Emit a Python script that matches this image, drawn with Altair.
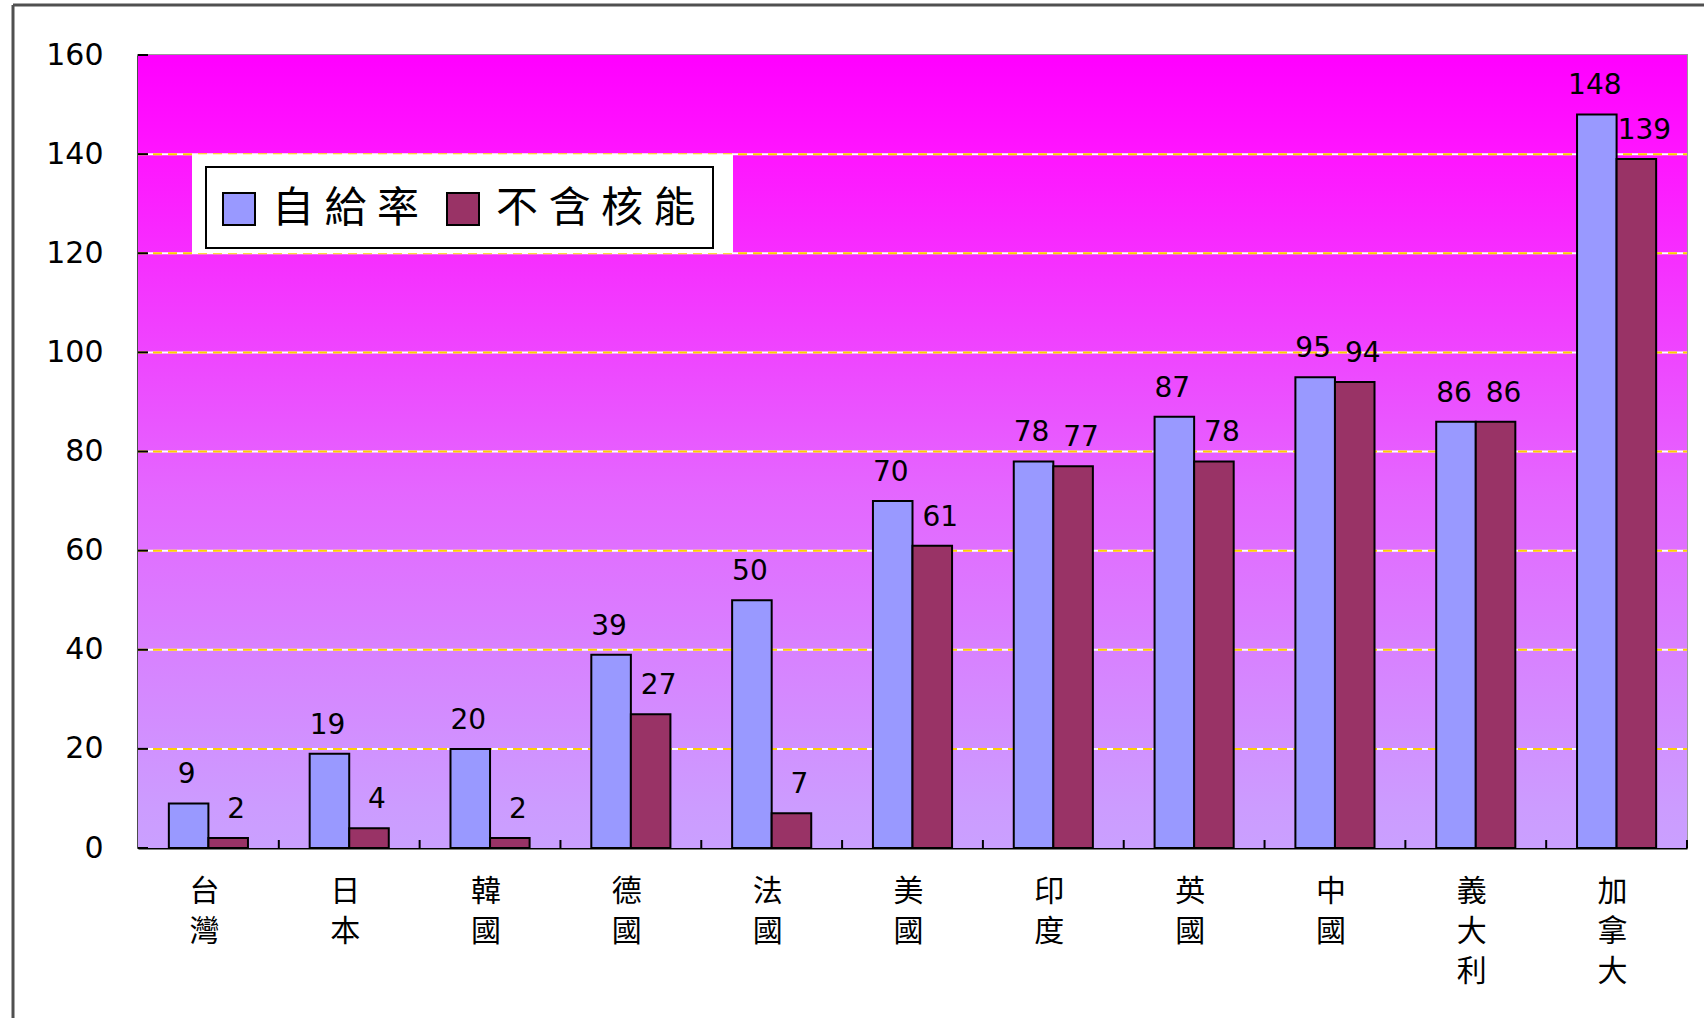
import altair as alt
import pandas as pd

# Energy self-sufficiency by country, with and without nuclear power
countries = ["台灣", "日本", "韓國", "德國", "法國", "美國", "印度", "英國", "中國", "義大利", "加拿大"]
self_rate = [9, 19, 20, 39, 50, 70, 78, 87, 95, 86, 148]
no_nuclear = [2, 4, 2, 27, 7, 61, 77, 78, 94, 86, 139]
series_names = ["自給率", "不含核能"]
series_colors = ["#9999FF", "#993366"]
y_ticks = [0, 20, 40, 60, 80, 100, 120, 140, 160]
grid_values = [20, 40, 60, 80, 100, 120, 140]

W, H = 1549, 793

rows = []
for c, a, b in zip(countries, self_rate, no_nuclear):
    rows.append({"country": c, "series": series_names[0], "value": a})
    rows.append({"country": c, "series": series_names[1], "value": b})
df = pd.DataFrame(rows)

x_scale = alt.Scale(paddingInner=0, paddingOuter=0)
y_scale = alt.Scale(domain=[0, 160], nice=False, zero=True)
off_scale = alt.Scale(paddingInner=0, paddingOuter=0.78)

one = pd.DataFrame({"k": [0]})

# gradient plot background
bg = alt.Chart(one).mark_rect(
    fill=alt.LinearGradient(
        gradient="linear",
        stops=[
            alt.GradientStop(color="#FF00FF", offset=0),
            alt.GradientStop(color="#FF14FF", offset=0.12),
            alt.GradientStop(color="#E466FF", offset=0.55),
            alt.GradientStop(color="#CC9CFF", offset=0.95),
            alt.GradientStop(color="#CAA0FF", offset=1),
        ],
        x1=0, x2=0, y1=0, y2=1,
    ),
    strokeWidth=0,
).encode(x=alt.value(0), x2=alt.value(W), y=alt.value(0), y2=alt.value(H))

grid_df = pd.DataFrame({"value": grid_values})
grid_white = alt.Chart(grid_df).mark_rule(color="white", strokeWidth=2).encode(
    y=alt.Y("value:Q", scale=y_scale, title=None), x=alt.value(0), x2=alt.value(W)
)
grid_yellow = alt.Chart(grid_df).mark_rule(
    color="#FFD000", strokeWidth=2, strokeDash=[9, 6]
).encode(y=alt.Y("value:Q", scale=y_scale, title=None), x=alt.value(0), x2=alt.value(W))

# white band and framed box behind the legend
band_df = pd.DataFrame({"value": [140], "lo": [120]})
legend_band = alt.Chart(band_df).mark_rect(color="white").encode(
    y=alt.Y("value:Q", scale=y_scale, title=None), y2="lo:Q",
    x=alt.value(54), x2=alt.value(595),
)
legend_box = alt.Chart(one).mark_rect(
    fill="white", stroke="black", strokeWidth=2
).encode(x=alt.value(68), x2=alt.value(575), y=alt.value(112), y2=alt.value(193))

bars = alt.Chart(df).mark_bar(stroke="black", strokeWidth=2).encode(
    x=alt.X("country:N", sort=countries, scale=x_scale, title=None),
    xOffset=alt.XOffset("series:N", sort=series_names, scale=off_scale),
    y=alt.Y("value:Q", scale=y_scale, title=None),
    color=alt.Color(
        "series:N", sort=series_names,
        scale=alt.Scale(domain=series_names, range=series_colors),
        legend=alt.Legend(
            title=None, orient="none", legendX=80, legendY=133,
            direction="horizontal", columns=2, padding=0,
            symbolType="square", symbolSize=1024, symbolStrokeColor="black",
            symbolStrokeWidth=2, symbolOpacity=1,
            labelFont="Noto Sans CJK TC", labelFontSize=42, labelColor="black",
            labelOffset=12, columnPadding=22,
            labelExpr="join(split(datum.label, ''), '\u2005')",
            labelLimit=400,
        ),
    ),
)

# inward ticks on both axes
xt_df = pd.DataFrame({"country": countries})
x_ticks = alt.Chart(xt_df).mark_rule(color="black", strokeWidth=2).encode(
    x=alt.X("country:N", sort=countries, scale=x_scale, bandPosition=1, title=None),
    y=alt.value(H), y2=alt.value(H - 8),
)
yt_df = pd.DataFrame({"value": y_ticks})
y_tick_marks = alt.Chart(yt_df).mark_rule(color="black", strokeWidth=2).encode(
    y=alt.Y("value:Q", scale=y_scale, title=None), x=alt.value(0), x2=alt.value(10)
)

label_font = dict(font="DejaVu Sans", fontSize=28, color="black", baseline="alphabetic")
text_a = alt.Chart(df).transform_filter(
    alt.datum.series == series_names[0]
).mark_text(dx=-2, dy=-20, **label_font).encode(
    x=alt.X("country:N", sort=countries, scale=x_scale, title=None),
    xOffset=alt.XOffset("series:N", sort=series_names, scale=off_scale),
    y=alt.Y("value:Q", scale=y_scale, title=None),
    text="value:Q",
)
text_b = alt.Chart(df).transform_filter(
    alt.datum.series == series_names[1]
).mark_text(dx=8, dy=-20, **label_font).encode(
    x=alt.X("country:N", sort=countries, scale=x_scale, title=None),
    xOffset=alt.XOffset("series:N", sort=series_names, scale=off_scale),
    y=alt.Y("value:Q", scale=y_scale, title=None),
    text="value:Q",
)

# outer chart frame (left and top edges)
frame_left = alt.Chart(one).mark_rule(color="#505050", strokeWidth=3).encode(
    x=alt.value(-125), y=alt.value(-50), y2=alt.value(H + 300)
)
frame_top = alt.Chart(one).mark_rule(color="#505050", strokeWidth=3).encode(
    x=alt.value(-125), x2=alt.value(W + 300), y=alt.value(-50)
)

chart = alt.layer(
    bg, grid_white, grid_yellow, legend_band, legend_box, bars,
    x_ticks, y_tick_marks, text_a, text_b, frame_left, frame_top,
).properties(
    width=W, height=H,
    autosize=alt.AutoSizeParams(type="none"),
    padding={"left": 138, "top": 55, "right": 17, "bottom": 170},
    background="white",
).configure_view(
    stroke="#999999", strokeWidth=2
).configure_axisX(
    labelAngle=0, ticks=False, tickSize=0, grid=False,
    labelExpr="split(datum.label, '')",
    labelFont="Noto Sans CJK TC", labelFontSize=30, labelLineHeight=40,
    labelColor="black", labelPadding=28, labelOffset=-4,
    domainColor="black", domainWidth=2,
).configure_axisY(
    tickCount=8, ticks=False, tickSize=0, grid=False,
    labelFont="DejaVu Sans", labelFontSize=30, labelColor="black",
    labelPadding=35, domainColor="black", domainWidth=2,
)

chart.save("out.html", embed_options={"renderer": "svg", "actions": False})
